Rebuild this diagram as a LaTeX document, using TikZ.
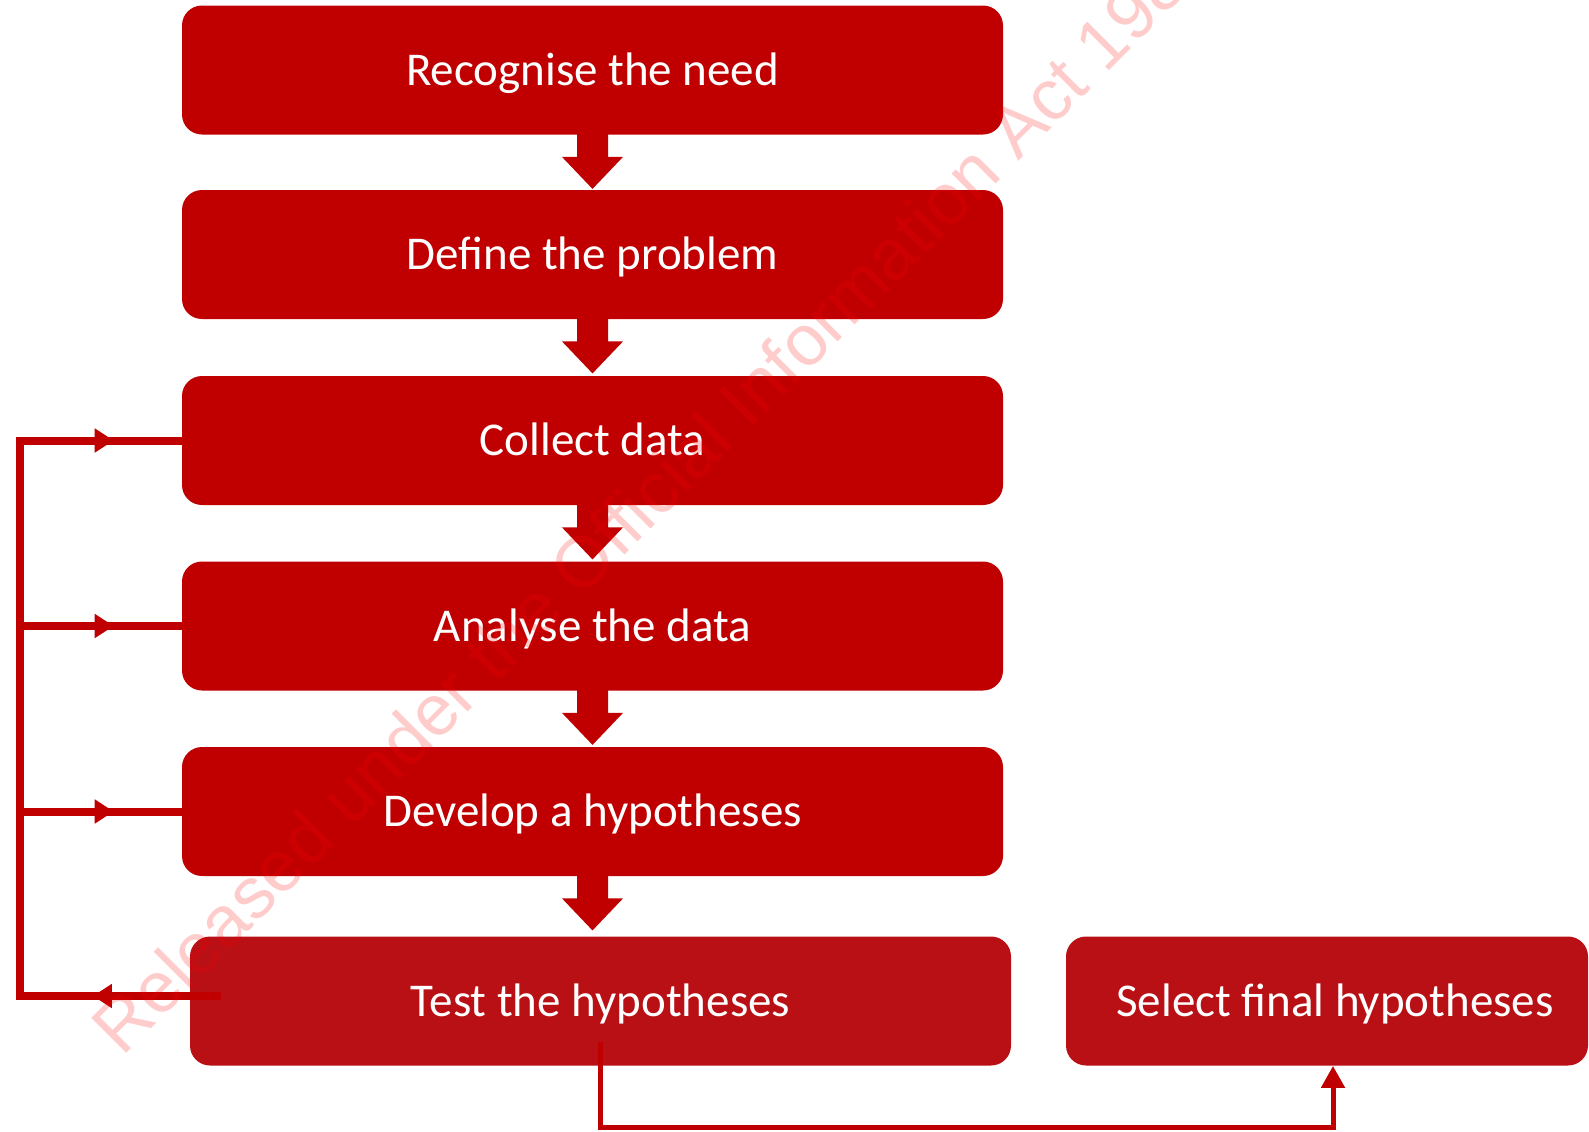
\documentclass[tikz,border=0pt]{standalone}
\usepackage{fontspec}
\setmainfont{Carlito}
\newfontfamily\markfont{Liberation Sans}
\usetikzlibrary{arrows.meta,decorations.markings,calc}
\definecolor{boxred}{HTML}{C00000}
\definecolor{testred}{HTML}{B81015}
\tikzset{
  stepbox/.style={fill=boxred, rounded corners=10pt, minimum width=410.5pt,
    minimum height=64.5pt, inner sep=0pt, text=white,
    font=\fontsize{23.5}{28}\selectfont, text height=15pt, text depth=0pt},
  loopline/.style={draw=boxred, line width=4pt, line cap=rect},
  linkline/.style={draw=boxred, line width=2.5pt},
  midtip/.style={postaction={decorate}, decoration={markings,
    mark=at position #1 with {\arrow{Triangle[length=9.5pt,width=11.5pt]}}}}
}
% block arrow below a box
\newcommand\blockdown[1]{%
  \fill[boxred] ($(#1.south)+(-15.5,-1)$) -- ++(0,23) -- ++(-15,0)
    -- ++(30.5,32) -- ++(30.5,-32) -- ++(-15,0) -- ++(0,-23) -- cycle;}
\begin{document}
\begin{tikzpicture}[x=0.5pt,y=-0.5pt]
\useasboundingbox (0,0) rectangle (1589,1131);
% steps
\node[stepbox] (recognise) at (592.5,70) {Recognise the need};
\node[stepbox] (define) at (592.5,254.5) {Define the problem};
\node[stepbox] (collect) at (592.5,440.5) {Collect data};
\node[stepbox] (analyse) at (592.5,626) {Analyse the data};
\node[stepbox] (develop) at (592.5,811.5) {Develop a hypotheses};
\node[stepbox, fill=testred] (test) at (600.5,1001) {Test the hypotheses};
\node[stepbox, fill=testred, minimum width=261pt] (select) at (1327,1001) {\hspace{8pt}Select final hypotheses};
\foreach \b in {recognise,define,collect,analyse,develop}
  \blockdown{\b};
% loop back
\coordinate (fbstart) at (217,996);
\coordinate (fbcorner) at (20,996);
\draw[loopline, midtip=0.63] (fbstart) -- (fbcorner);
\draw[loopline] (fbcorner) -- (fbcorner |- collect.west);
\foreach \b in {collect,analyse,develop}
  \draw[loopline, midtip=0.58] (fbcorner |- \b.west) -- (\b.west);
% test to select
\coordinate (tsstart) at (600,1042);
\coordinate (tsdown) at (600,1127);
\coordinate (tsright) at (1333,1127);
\draw[linkline, -{Triangle[length=11pt,width=11.5pt]}] (tsstart) -- (tsdown) -- (tsright) -- (tsright |- select.south);
% watermark
\begin{scope}
\clip (0,0) rectangle (1589,1131);
\node[anchor=base west, rotate=45, inner sep=0pt, text=red, text opacity=0.2,
  font=\markfont\fontsize{36}{43}\selectfont] (mark) at (122,1058)
  {Released under the Official Information Act 1982};
\end{scope}
\end{tikzpicture}
\end{document}
